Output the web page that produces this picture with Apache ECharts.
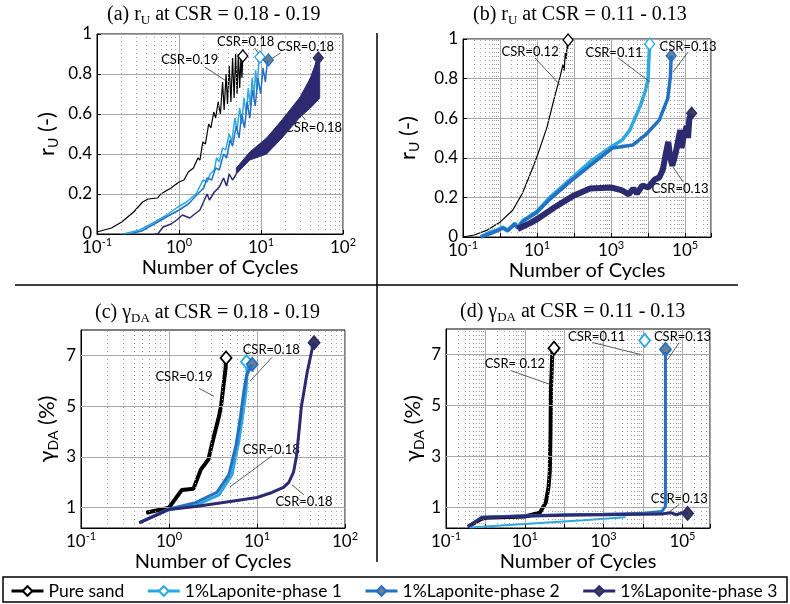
<!DOCTYPE html>
<html>
<head>
<meta charset="utf-8">
<script src="https://cdn.jsdelivr.net/npm/echarts@6/dist/echarts.min.js"></script>
<style>
html, body { margin: 0; padding: 0; background: #fff; }
#chart { width: 790px; height: 604px; }
</style>
</head>
<body>
<div id="chart"></div>
<script>
const names = ['Pure sand', '1%Laponite-phase 1', '1%Laponite-phase 2', '1%Laponite-phase 3'];
const lineColors = ['#000000', '#29a9e1', '#2371c4', '#2c2a70'];
const markerFill = ['#ffffff', '#ffffff', '#6f7f96', '#3a3f52'];
const markerEdge = ['#000000', '#29a9e1', '#2371c4', '#2c2a70'];

// (a) r_U at CSR 0.18-0.19, points are [cycles, r_U]
const aSand = [[0.1,0.01],[0.15,0.03],[0.2,0.06],[0.28,0.11],[0.36,0.16],[0.42,0.175],[0.55,0.18],[0.6,0.2],[0.8,0.23],[1.0,0.26],[1.15,0.27],[1.3,0.31],[1.5,0.33],[1.7,0.38],[1.8,0.37],[1.95,0.46],[2.1,0.45],[2.3,0.55],[2.45,0.53],[2.65,0.61],[2.8,0.58],[3.0,0.66],[3.2,0.6],[3.4,0.76],[3.55,0.62],[3.75,0.8],[3.9,0.65],[4.1,0.84],[4.3,0.66],[4.5,0.88],[4.7,0.68],[4.9,0.9],[5.1,0.7],[5.3,0.9],[5.5,0.73],[5.7,0.89],[5.85,0.78],[6.0,0.89]];
const aP1 = [[0.21,0],[0.33,0.02],[0.48,0.055],[0.71,0.095],[0.97,0.135],[1.24,0.16],[1.64,0.205],[1.96,0.27],[2.2,0.26],[2.4,0.3],[2.7,0.32],[2.87,0.38],[3.1,0.36],[3.4,0.43],[3.7,0.42],[4.1,0.5],[4.4,0.46],[4.8,0.58],[5.1,0.52],[5.5,0.63],[5.8,0.55],[6.2,0.68],[6.6,0.6],[7.0,0.73],[7.4,0.64],[7.8,0.78],[8.2,0.68],[8.6,0.82],[9.0,0.72],[9.4,0.86],[9.7,0.885]];
const aP2 = [[0.25,0],[0.35,0.015],[0.5,0.05],[0.7,0.085],[1.0,0.12],[1.3,0.15],[1.6,0.19],[2.0,0.23],[2.2,0.28],[2.5,0.27],[2.8,0.33],[3.1,0.32],[3.5,0.4],[3.8,0.38],[4.2,0.47],[4.5,0.44],[5.0,0.54],[5.4,0.48],[5.8,0.6],[6.3,0.53],[6.8,0.66],[7.3,0.58],[7.9,0.72],[8.5,0.64],[9.2,0.78],[9.9,0.7],[10.6,0.83],[11.3,0.76],[12,0.87]];
const aP3 = [[0.5,0],[0.55,0],[0.64,0.035],[0.8,0.05],[0.94,0.07],[1.1,0.095],[1.35,0.08],[1.8,0.12],[2.2,0.2],[2.35,0.17],[2.7,0.21],[3.1,0.235],[3.5,0.28],[3.8,0.24],[4.1,0.3],[4.5,0.27],[5.0,0.3]];
// dense oscillation band of phase 3 in (a): lower / upper envelope
const aP3BandN = [5.0, 7.3, 11.7, 18, 30, 40, 47, 52];
const aP3Low = [0.3, 0.37, 0.4, 0.48, 0.585, 0.63, 0.66, 0.68];
const aP3High = [0.33, 0.41, 0.48, 0.57, 0.685, 0.78, 0.86, 0.89];
const aEnd = [[6.0,0.89],[9.7,0.885],[12.3,0.87],[50,0.88]];

// (b) r_U at CSR 0.11-0.13
const bSand = [[0.1,0],[0.2,0.01],[0.45,0.035],[1.0,0.075],[2.2,0.135],[4,0.22],[7.3,0.34],[10.6,0.42],[18.6,0.555],[30,0.71],[42,0.81],[50,0.87],[54,0.84],[58,0.93],[62,0.9],[65,0.97],[67,0.95],[69,0.995]];
const bP1 = [[0.3,0],[0.54,0.025],[0.83,0.035],[1.2,0.05],[1.6,0.035],[2.5,0.07],[3.0,0.05],[4.2,0.085],[10,0.13],[22,0.2],[78,0.29],[270,0.38],[900,0.45],[2000,0.49],[3200,0.54],[6100,0.66],[8500,0.74],[10000,0.8],[10500,0.9],[11000,0.975]];
const bP2 = [[0.3,0],[0.6,0.02],[1.2,0.045],[1.6,0.03],[2.5,0.065],[3.0,0.045],[4.2,0.08],[10,0.125],[22,0.19],[78,0.28],[270,0.36],[1100,0.45],[3900,0.465],[9000,0.52],[20000,0.59],[34000,0.7],[40000,0.81],[42000,0.915]];
const bP3 = [[3,0.04],[6.5,0.07],[10,0.09],[30,0.15],[100,0.21],[270,0.245],[1000,0.25],[2000,0.235],[3000,0.215],[4000,0.245],[5000,0.22],[7000,0.26],[10000,0.25],[15000,0.29],[20000,0.3],[25000,0.34],[30000,0.42],[35000,0.48],[40000,0.4],[45000,0.36],[55000,0.42],[74000,0.54],[80000,0.45],[90000,0.5],[110000,0.56],[120000,0.5],[130000,0.6],[150000,0.62]];
const bEnd = [[69,0.995],[11000,0.975],[42000,0.915],[150000,0.625]];

// (c) gamma_DA at CSR 0.18-0.19, points are [cycles, gamma_DA %]
const cSand = [[0.55,0.8],[1.0,1.0],[1.4,1.7],[1.9,1.75],[2.3,2.5],[2.8,2.9],[3.1,3.55],[3.7,4.6],[3.9,5.0],[4.4,6.5],[4.45,6.9]];
const cP1 = [[0.46,0.41],[1.0,0.92],[2.2,1.15],[3.7,1.5],[5.2,2.3],[6.2,3.6],[7.0,4.8],[7.5,5.6],[7.7,6.3],[7.6,6.75]];
const cP2 = [[0.46,0.41],[1.0,0.95],[2.0,1.2],[3.5,1.6],[4.8,2.3],[5.8,3.5],[6.5,4.6],[7.1,5.6],[7.6,6.2],[8.8,6.65]];
const cP3 = [[0.46,0.4],[1.0,0.93],[2,1.05],[5.2,1.25],[10,1.4],[14.8,1.6],[20,1.8],[23,2.0],[26,2.4],[28,3.0],[30,4.0],[32,5.0],[37,6.3],[42,7.2],[44.5,7.5]];
const cEnd = [[4.45,6.9],[7.6,6.75],[8.8,6.65],[44.5,7.5]];

// (d) gamma_DA at CSR 0.11-0.13
const dSand = [[0.36,0.25],[0.6,0.45],[0.77,0.55],[1.0,0.6],[10,0.65],[24,0.8],[34,1.2],[40,1.8],[43,2.4],[45,4.0],[46,5.6],[50,7.1],[55,7.25]];
const dP1 = [[0.4,0.22],[10,0.36],[300,0.5],[3600,0.62]];
const dP2 = [[0.36,0.25],[0.8,0.62],[10,0.68],[100,0.72],[1000,0.74],[10000,0.78],[30000,0.85],[37000,1.05],[37000,7.1]];
const dP3 = [[0.36,0.25],[0.8,0.6],[10,0.66],[100,0.7],[1000,0.72],[10000,0.74],[30000,0.75],[50000,0.8],[70000,0.72],[100000,0.8],[135000,0.77]];
const dEnd = [[55,7.25],[11000,7.55],[37000,7.2],[135000,0.77]];

// CSR callouts: [text, cycles, value] and leader lines [[from], [to]]
const aNotes = [['CSR=0.19',1.35,0.87],['CSR=0.18',6.5,0.96],['CSR=0.18',34.9,0.935],['CSR=0.18',43.7,0.53]];
const aLeaders = [[[2.06,0.835],[3.93,0.76]],[[8.35,0.93],[9.9,0.89]],[[17.3,0.905],[12.7,0.87]],[[26.4,0.63],[34.9,0.57]]];
const bNotes = [['CSR=0.12',6.5,0.934],['CSR=0.11',1200,0.93],['CSR=0.13',120000,0.96],['CSR=0.13',73000,0.242]];
const bLeaders = [[[8.8,0.904],[41.9,0.768]],[[1550,0.904],[11300,0.783]],[[120000,0.934],[47000,0.833]],[[47000,0.354],[88000,0.278]]];
const cNotes = [['CSR=0.19',1.48,6.14],['CSR=0.18',14.5,7.2],['CSR=0.18',14.5,3.27],['CSR=0.18',34.2,1.24]];
const cLeaders = [[[2.19,5.7],[3.24,5.39]],[[14.8,6.92],[8.3,5.98]],[[14.8,3.04],[4.93,1.82]],[[25,1.9],[34,1.51]]];
const dNotes = [['CSR= 0.12',5.6,6.65],['CSR=0.11',665,7.7],['CSR=0.13',100000,7.7],['CSR=0.13',83000,1.35]];
const dLeaders = [[[4.4,6.37],[45.5,5.82]],[[525,7.47],[8650,7.0]],[[83000,7.47],[42000,6.8]],[[83000,1.12],[47000,0.84]]];

const gammaTicks = [1, 3, 5, 7];

const FONT = 'Lato, "Open Sans", sans-serif';
const SERIF = '"Liberation Serif", "DejaVu Serif", serif';

const grids = [
  { left: 97, top: 34, width: 246, height: 200 },
  { left: 463, top: 39, width: 248, height: 198 },
  { left: 81, top: 330, width: 264, height: 198 },
  { left: 446, top: 329, width: 264, height: 199 }
];
const xMax = [100, 5e5, 100, 5e5];
const oddOnly = [false, true, false, true];
const xNameGap = [19, 17, 19, 15];
const yNameGap = [37, 42, 21, 20];

const chart = echarts.init(document.getElementById('chart'));

const supRich = {
  b: { fontFamily: FONT, fontSize: 17, lineHeight: 22, color: '#000' },
  sup: { fontFamily: FONT, fontSize: 11, lineHeight: 12, verticalAlign: 'top', color: '#000' }
};

const xAxes = grids.map((g, i) => ({
  type: 'log', logBase: 10, gridIndex: i, min: 0.1, max: xMax[i], splitNumber: 10,
  name: 'Number of Cycles', nameLocation: 'middle', nameGap: xNameGap[i],
  nameTextStyle: { fontFamily: FONT, fontSize: 20, color: '#000' },
  axisLine: { show: true, onZero: false, lineStyle: { color: '#000', width: 1 } },
  axisTick: { show: true, inside: true, length: 4, lineStyle: { color: '#000' } },
  splitLine: { show: true, lineStyle: { color: '#a8a8a8', width: 1 } },
  axisLabel: {
    margin: 3, hideOverlap: false,
    formatter: v => {
      const lg = Math.log10(v);
      const e = Math.round(lg);
      if (Math.abs(lg - e) > 0.01) return '';
      if (oddOnly[i] && Math.abs(e % 2) !== 1) return '';
      return '{b|10}{sup|' + e + '}';
    },
    rich: supRich
  }
}));

const yNames = ['{n|r}{sub|U}{n| (-)}', '{n|r}{sub|U}{n| (-)}', '{n|γ}{sub|DA}{n| (%)}', '{n|γ}{sub|DA}{n| (%)}'];
const yAxes = grids.map((g, i) => {
  const isR = i < 2;
  const ax = {
    type: 'value', gridIndex: i,
    name: yNames[i], nameLocation: 'middle', nameGap: yNameGap[i], nameRotate: 90,
    nameTextStyle: {
      rich: {
        n: { fontFamily: FONT, fontSize: 22, lineHeight: 26, color: '#000' },
        sub: { fontFamily: FONT, fontSize: 14, lineHeight: 14, verticalAlign: 'bottom', color: '#000' }
      }
    },
    axisLine: { show: true, lineStyle: { color: '#000', width: 1 } },
    axisTick: { show: true, inside: true, length: 4, lineStyle: { color: '#000' } },
    axisLabel: { margin: 5, color: '#000', fontFamily: FONT, fontSize: 17 },
    splitLine: { show: isR, lineStyle: { color: '#a8a8a8', width: 1 } }
  };
  if (isR) {
    Object.assign(ax, { min: 0, max: 1, interval: 0.2 });
  } else {
    Object.assign(ax, { min: 0.2, max: 8 });
    ax.axisLabel.customValues = gammaTicks;
    ax.axisTick.customValues = gammaTicks;
  }
  return ax;
});

// dotted minor grid at 2..9 of every decade (plus solid gamma grid lines)
function gridSeries(i) {
  const lines = [];
  for (let e = -1; e < 6; e++) {
    for (let k = 2; k <= 9; k++) {
      const v = k * Math.pow(10, e);
      if (v < xMax[i]) lines.push({ xAxis: v });
    }
  }
  if (i >= 2) {
    gammaTicks.forEach(t => lines.push({ yAxis: t, lineStyle: { type: 'solid', color: '#a8a8a8', width: 1 } }));
  }
  return {
    type: 'line', xAxisIndex: i, yAxisIndex: i, data: [], silent: true, z: 1,
    markLine: {
      silent: true, symbol: ['none', 'none'], label: { show: false }, animation: false,
      lineStyle: { type: [1, 3], color: '#a0a0a0', width: 1 },
      data: lines
    }
  };
}

function curve(i, k, data, width, end) {
  return {
    type: 'line', name: names[k], xAxisIndex: i, yAxisIndex: i, data: data,
    showSymbol: false, symbol: 'diamond', symbolSize: 10, z: 3 + k,
    lineStyle: { color: lineColors[k], width: width },
    itemStyle: { color: markerFill[k], borderColor: markerEdge[k], borderWidth: 1.5 },
    markPoint: {
      symbol: 'diamond', symbolSize: i < 2 ? [10, 12] : [11, 13], silent: true, animation: false,
      label: { show: false },
      itemStyle: { color: markerFill[k], borderColor: markerEdge[k], borderWidth: i < 2 ? 1.3 : 1.8 },
      data: [{ coord: end[k] }]
    }
  };
}

function notes(i, list, leaders) {
  return {
    type: 'line', xAxisIndex: i, yAxisIndex: i, data: [], silent: true, z: 10,
    markLine: {
      silent: true, symbol: ['none', 'none'], label: { show: false }, animation: false,
      lineStyle: { type: 'solid', color: '#333', width: 0.8 },
      data: leaders.map(l => [{ coord: l[0] }, { coord: l[1] }])
    },
    markPoint: {
      silent: true, symbol: 'rect', symbolSize: 1, animation: false,
      itemStyle: { color: 'rgba(0,0,0,0)' },
      label: { show: true, position: 'inside', formatter: '{b}', color: '#000', fontFamily: FONT, fontSize: 13 },
      data: list.map(n => ({ name: n[0], coord: [n[1], n[2]] }))
    }
  };
}

// phase 3 oscillation band in (a), drawn as quads between the two envelopes
const bandSeries = {
  type: 'custom', xAxisIndex: 0, yAxisIndex: 0, z: 6, silent: true,
  data: aP3BandN.slice(0, -1).map((n, j) => [n, aP3Low[j], aP3BandN[j + 1], aP3Low[j + 1], aP3High[j + 1], aP3High[j]]),
  renderItem: (params, api) => ({
    type: 'polygon',
    shape: {
      points: [
        api.coord([api.value(0), api.value(1)]),
        api.coord([api.value(2), api.value(3)]),
        api.coord([api.value(2), api.value(4)]),
        api.coord([api.value(0), api.value(5)])
      ]
    },
    style: { fill: lineColors[3], stroke: lineColors[3], lineWidth: 1 }
  })
};

const series = [
  curve(0, 0, aSand, 1.2, aEnd),
  curve(0, 1, aP1, 1.5, aEnd),
  curve(0, 2, aP2, 1.5, aEnd),
  curve(0, 3, aP3, 1.5, aEnd),
  bandSeries,
  curve(1, 0, bSand, 1.2, bEnd),
  curve(1, 1, bP1, 3.5, bEnd),
  curve(1, 2, bP2, 3.5, bEnd),
  curve(1, 3, bP3, 6, bEnd),
  curve(2, 0, cSand, 4, cEnd),
  curve(2, 1, cP1, 3, cEnd),
  curve(2, 2, cP2, 3, cEnd),
  curve(2, 3, cP3, 3, cEnd),
  curve(3, 0, dSand, 4, dEnd),
  curve(3, 1, dP1, 2, dEnd),
  curve(3, 2, dP2, 3, dEnd),
  curve(3, 3, dP3, 3, dEnd),
  gridSeries(0), gridSeries(1), gridSeries(2), gridSeries(3),
  notes(0, aNotes, aLeaders), notes(1, bNotes, bLeaders), notes(2, cNotes, cLeaders), notes(3, dNotes, dLeaders)
];

const titleRich = {
  sub: { fontFamily: SERIF, fontSize: 13, lineHeight: 13, verticalAlign: 'bottom', color: '#000' }
};
const titleStyle = { fontFamily: SERIF, fontSize: 20, fontWeight: 'normal', lineHeight: 24, color: '#000', rich: titleRich };

chart.setOption({
  animation: false,
  backgroundColor: '#fff',
  title: [
    { text: '(a) r{sub|U} at CSR = 0.18 - 0.19', left: 107, top: 3, padding: 0, textStyle: titleStyle },
    { text: '(b) r{sub|U} at CSR = 0.11 - 0.13', left: 473, top: 3, padding: 0, textStyle: titleStyle },
    { text: '(c) γ{sub|DA} at CSR = 0.18 - 0.19', left: 95, top: 301, padding: 0, textStyle: titleStyle },
    { text: '(d) γ{sub|DA} at CSR = 0.11 - 0.13', left: 460, top: 300, padding: 0, textStyle: titleStyle }
  ],
  grid: grids.map(g => Object.assign({ show: true, borderColor: '#000', borderWidth: 1, backgroundColor: 'transparent' }, g)),
  xAxis: xAxes,
  yAxis: yAxes,
  legend: {
    data: names, left: 10, top: 582, width: 780, itemGap: 22, itemWidth: 32, itemHeight: 12, padding: 0,
    selectedMode: false,
    lineStyle: { width: 3 },
    textStyle: { fontFamily: FONT, fontSize: 17.5, color: '#000' }
  },
  graphic: [
    { type: 'line', silent: true, shape: { x1: 15, y1: 285, x2: 738, y2: 285 }, style: { stroke: '#000', lineWidth: 1.5 } },
    { type: 'line', silent: true, shape: { x1: 377, y1: 33, x2: 377, y2: 562 }, style: { stroke: '#000', lineWidth: 1.5 } },
    { type: 'rect', silent: true, shape: { x: 3, y: 577, width: 784, height: 25 }, style: { fill: 'none', stroke: '#000', lineWidth: 1.5 } }
  ],
  series: series
});
</script>
</body>
</html>
